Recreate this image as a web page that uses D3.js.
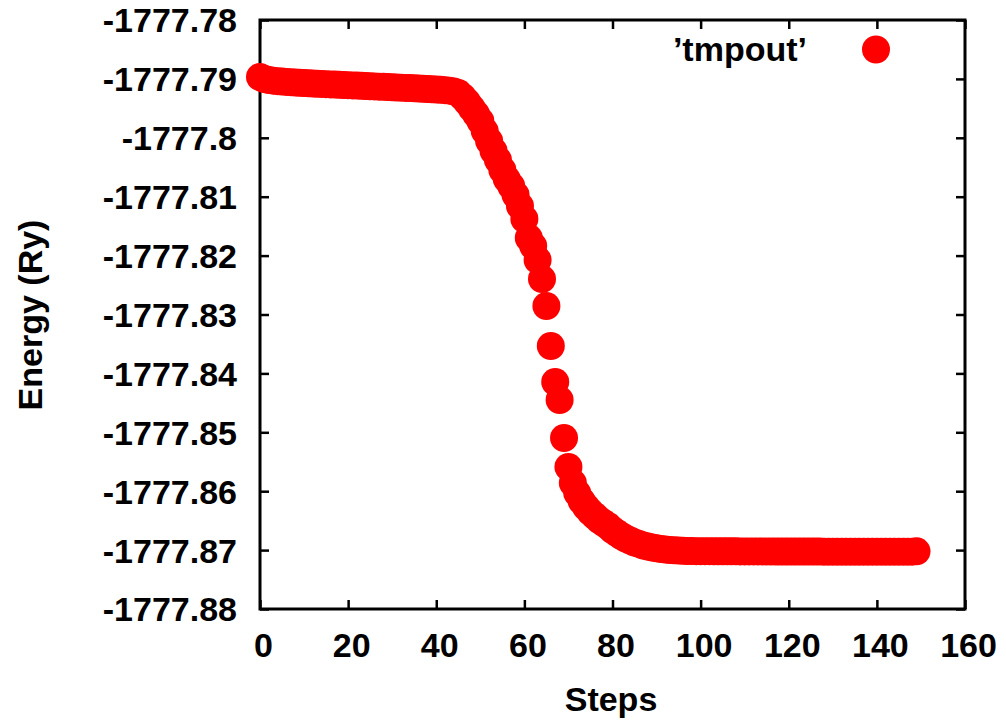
<!DOCTYPE html>
<html lang="en">
<head>
  <meta charset="UTF-8">
  <title>Energy vs Steps</title>
  <script src="https://d3js.org/d3.v7.min.js"></script>
  <style>
    body {
      margin: 0;
      background: #fff;
      font-family: "Liberation Sans", Arial, sans-serif;
    }
    svg text {
      font-weight: bold;
      fill: #000;
    }
  </style>
</head>
<body>
<svg id="chart" width="1006" height="721"></svg>

<script>
// Data
const seriesName = "\u2019tmpout\u2019";

const energy = [
  -1777.78968, -1777.79002, -1777.79019, -1777.79030, -1777.79038,
  -1777.79045, -1777.79051, -1777.79056, -1777.79061, -1777.79066,
  -1777.79070, -1777.79074, -1777.79078, -1777.79082, -1777.79086,
  -1777.79089, -1777.79093, -1777.79097, -1777.79100, -1777.79104,
  -1777.79107, -1777.79111, -1777.79114, -1777.79118, -1777.79121,
  -1777.79125, -1777.79128, -1777.79132, -1777.79135, -1777.79139,
  -1777.79142, -1777.79146, -1777.79149, -1777.79153, -1777.79156,
  -1777.79160, -1777.79164, -1777.79168, -1777.79172, -1777.79176,
  -1777.79181, -1777.79186, -1777.79192, -1777.79200, -1777.79212,
  -1777.79239, -1777.79307, -1777.79392, -1777.79494, -1777.79596,
  -1777.79715, -1777.79885, -1777.80054, -1777.80224, -1777.80377,
  -1777.80547, -1777.80700, -1777.80818, -1777.80971, -1777.81158,
  -1777.81379, -1777.81701, -1777.81837, -1777.82075, -1777.82397,
  -1777.82856, -1777.83535, -1777.84146, -1777.84452, -1777.85097,
  -1777.85589, -1777.85861, -1777.86031, -1777.86166, -1777.86268,
  -1777.86353, -1777.86421, -1777.86489, -1777.86540, -1777.86591,
  -1777.86659, -1777.86710, -1777.86761, -1777.86803, -1777.86837,
  -1777.86871, -1777.86896, -1777.86922, -1777.86939, -1777.86956,
  -1777.86969, -1777.86981, -1777.86990, -1777.86998, -1777.87003,
  -1777.87008, -1777.87012, -1777.87015, -1777.87017, -1777.87018,
  -1777.87018, -1777.87019, -1777.87019, -1777.87020, -1777.87020,
  -1777.87020, -1777.87021, -1777.87021, -1777.87021, -1777.87022,
  -1777.87022, -1777.87022, -1777.87022, -1777.87023, -1777.87023,
  -1777.87023, -1777.87023, -1777.87024, -1777.87024, -1777.87024,
  -1777.87024, -1777.87024, -1777.87025, -1777.87025, -1777.87025,
  -1777.87025, -1777.87025, -1777.87025, -1777.87026, -1777.87026,
  -1777.87026, -1777.87026, -1777.87026, -1777.87026, -1777.87026,
  -1777.87027, -1777.87027, -1777.87027, -1777.87027, -1777.87027,
  -1777.87027, -1777.87027, -1777.87027, -1777.87027, -1777.87027,
  -1777.87027, -1777.87027, -1777.87027, -1777.87026, -1777.87020
];
const steps = energy.map((e, i) => i);

const xTicks = [0, 20, 40, 60, 80, 100, 120, 140, 160];
const yTicks = [-1777.88, -1777.87, -1777.86, -1777.85, -1777.84, -1777.83,
                -1777.82, -1777.81, -1777.80, -1777.79, -1777.78];

const svg = d3.select("#chart");
const plot = { left: 260, right: 965, top: 20, bottom: 609 };
const fontSize = 34;

const x = d3.scaleLinear().domain([0, 160]).range([plot.left, plot.right]);
const y = d3.scaleLinear().domain([-1777.88, -1777.78]).range([plot.bottom, plot.top]);

// gnuplot-like label: drop trailing zeros
const fmtY = v => String(+v.toFixed(2));

// bottom axis (ticks point inward)
const gx = svg.append("g")
  .attr("transform", `translate(0,${plot.bottom})`)
  .call(d3.axisBottom(x).tickValues(xTicks).tickSize(-9).tickPadding(24).tickFormat(d3.format("d")));
gx.selectAll("text").attr("dx", 3);

// left axis
const gy = svg.append("g")
  .attr("transform", `translate(${plot.left},0)`)
  .call(d3.axisLeft(y).tickValues(yTicks).tickSize(-9).tickPadding(23).tickFormat(fmtY));
gy.selectAll("text").attr("dy", "0.35em");

// mirrored ticks on top and right
svg.append("g")
  .attr("transform", `translate(0,${plot.top})`)
  .call(d3.axisTop(x).tickValues(xTicks).tickSize(-9).tickFormat(""));
svg.append("g")
  .attr("transform", `translate(${plot.right},0)`)
  .call(d3.axisRight(y).tickValues(yTicks).tickSize(-9).tickFormat(""));

svg.selectAll(".domain").remove();
svg.selectAll(".tick line").attr("stroke", "#000").attr("stroke-width", 2.5);
svg.selectAll(".tick text")
  .attr("font-family", "'Liberation Sans', Arial, sans-serif")
  .attr("font-size", fontSize)
  .attr("font-weight", "bold")
  .attr("fill", "#000");

// frame
svg.append("rect")
  .attr("x", plot.left)
  .attr("y", plot.top)
  .attr("width", plot.right - plot.left)
  .attr("height", plot.bottom - plot.top)
  .attr("fill", "none")
  .attr("stroke", "#000")
  .attr("stroke-width", 3);

// points
svg.append("g")
  .selectAll("circle")
  .data(steps)
  .enter()
  .append("circle")
  .attr("cx", i => x(steps[i]))
  .attr("cy", i => y(energy[i]))
  .attr("r", 14)
  .attr("fill", "#ff0000");

// legend
svg.append("text")
  .attr("x", 807)
  .attr("y", 61)
  .attr("text-anchor", "end")
  .attr("font-size", fontSize)
  .text(seriesName);
svg.append("circle")
  .attr("cx", 876)
  .attr("cy", 49.5)
  .attr("r", 14)
  .attr("fill", "#ff0000");

// axis titles
svg.append("text")
  .attr("x", 611)
  .attr("y", 711)
  .attr("text-anchor", "middle")
  .attr("font-size", fontSize)
  .text("Steps");

svg.append("text")
  .attr("transform", "translate(42,315) rotate(-90)")
  .attr("text-anchor", "middle")
  .attr("font-size", fontSize)
  .text("Energy (Ry)");
</script>
</body>
</html>
